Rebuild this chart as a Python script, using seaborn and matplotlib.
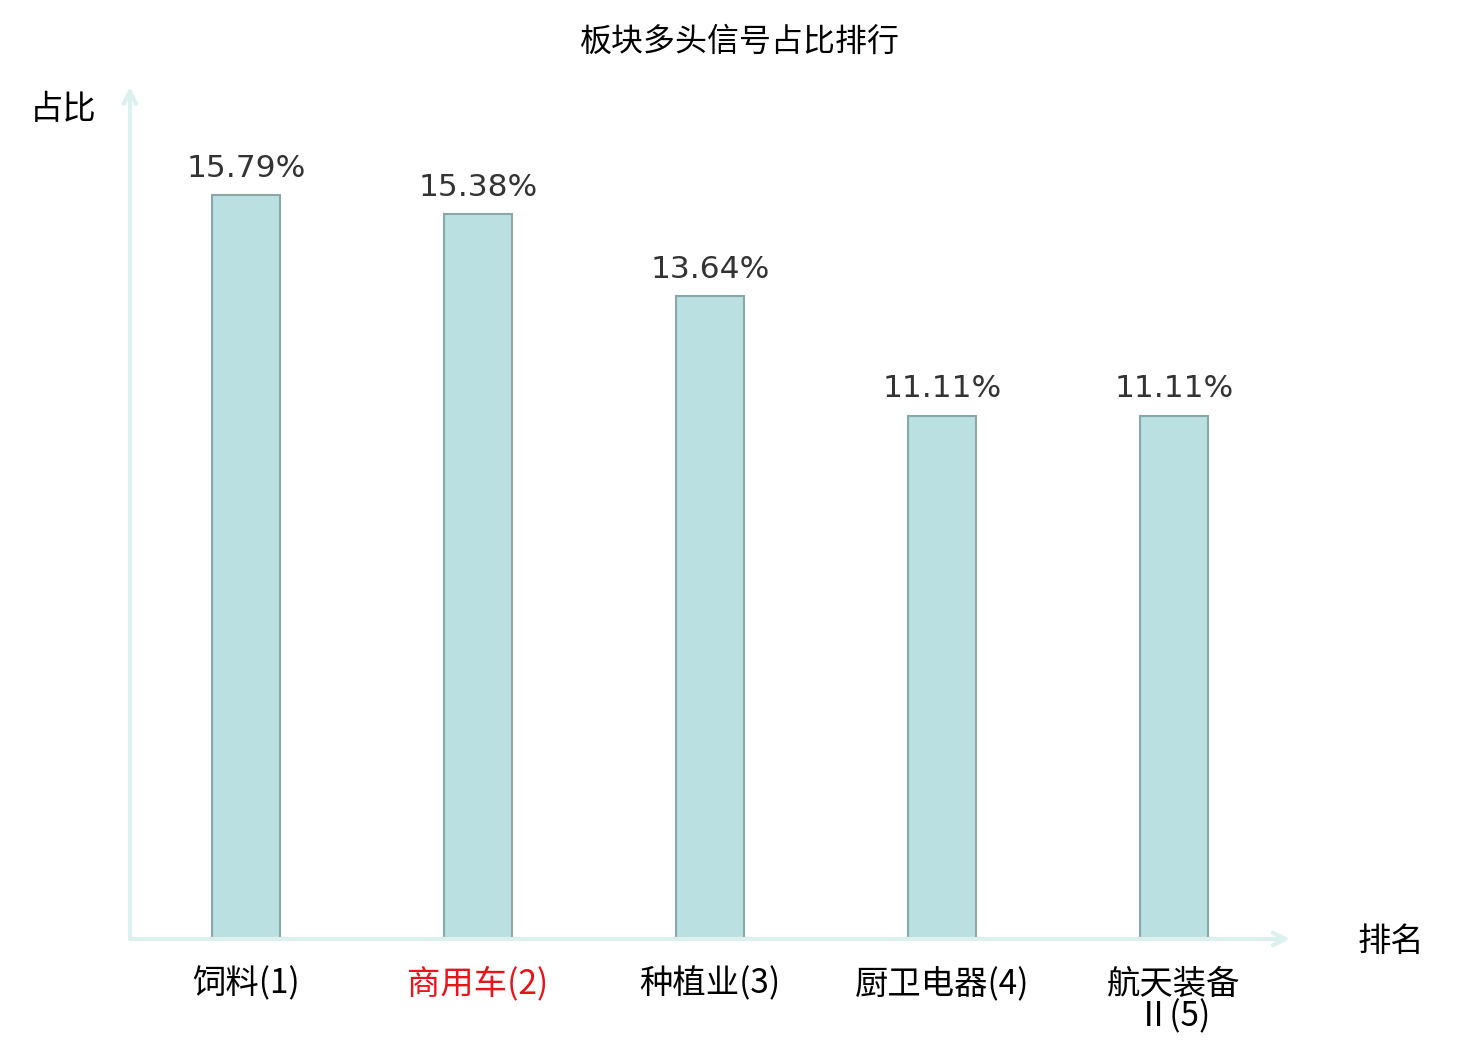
import matplotlib
matplotlib.use("Agg")
import matplotlib.pyplot as plt
import pandas as pd
import seaborn as sns

# données
categories = ["饲料(1)", "商用车(2)", "种植业(3)", "厨卫电器(4)", "航天装备\nⅡ(5)"]
ratios = [15.79, 15.38, 13.64, 11.11, 11.11]
label_colors = ["black", "#e8141a", "black", "black", "black"]

df = pd.DataFrame({"板块": categories, "占比": ratios})

sns.set_style("white")
plt.rcParams['font.family'] = ['Noto Sans CJK SC', 'DejaVu Sans']

fig = plt.figure(figsize=(14.8, 10.4), dpi=100)
ax = fig.add_axes([130 / 1480, 101 / 1040, 1160 / 1480, 848 / 1040])

sns.barplot(data=df, x="板块", y="占比", color="#bbe0e2", edgecolor="#8aa8a8",
            linewidth=1.5, width=0.293, saturation=1, ax=ax)

ax.set_xlim(-0.5, 4.5)
ax.set_ylim(0, 18)

for i, v in enumerate(ratios):
    ax.annotate(f"{v:.2f}%", (i, v), xytext=(0, 9), textcoords="offset points",
                ha="center", va="bottom", fontsize=22.5, color="#333333",
                family="DejaVu Sans")

for s in ax.spines.values():
    s.set_visible(False)
ax.set_yticks([])
ax.set_xlabel("")
ax.set_ylabel("")
ax.tick_params(axis="x", length=0, pad=20)
ax.set_xticks(range(len(categories)))
ax.set_xticklabels(categories, fontsize=24, linespacing=0.9, va="top")
for lbl, c in zip(ax.get_xticklabels(), label_colors):
    lbl.set_color(c)

# axes avec flèches
axis_col = "#dcf1ee"
arrow = dict(arrowstyle="->,head_length=0.9,head_width=0.45",
             color=axis_col, lw=3, shrinkA=0, shrinkB=0)
ax.annotate("", xy=(1.0, 0), xytext=(0, 0), xycoords="axes fraction",
            arrowprops=arrow, annotation_clip=False)
ax.annotate("", xy=(0, 1.005), xytext=(0, 0), xycoords="axes fraction",
            arrowprops=arrow, annotation_clip=False)

fig.text(63 / 1480, 1 - 110 / 1040, "占比", fontsize=24, ha="center", va="center",
         color="black")
fig.text(1391 / 1480, 1 - 941 / 1040, "排名", fontsize=24, ha="center", va="center",
         color="black")
fig.text(0.5, 1 - 42 / 1040, "板块多头信号占比排行", fontsize=23, ha="center",
         va="center", color="black")

fig.savefig("out.png", dpi=100)
